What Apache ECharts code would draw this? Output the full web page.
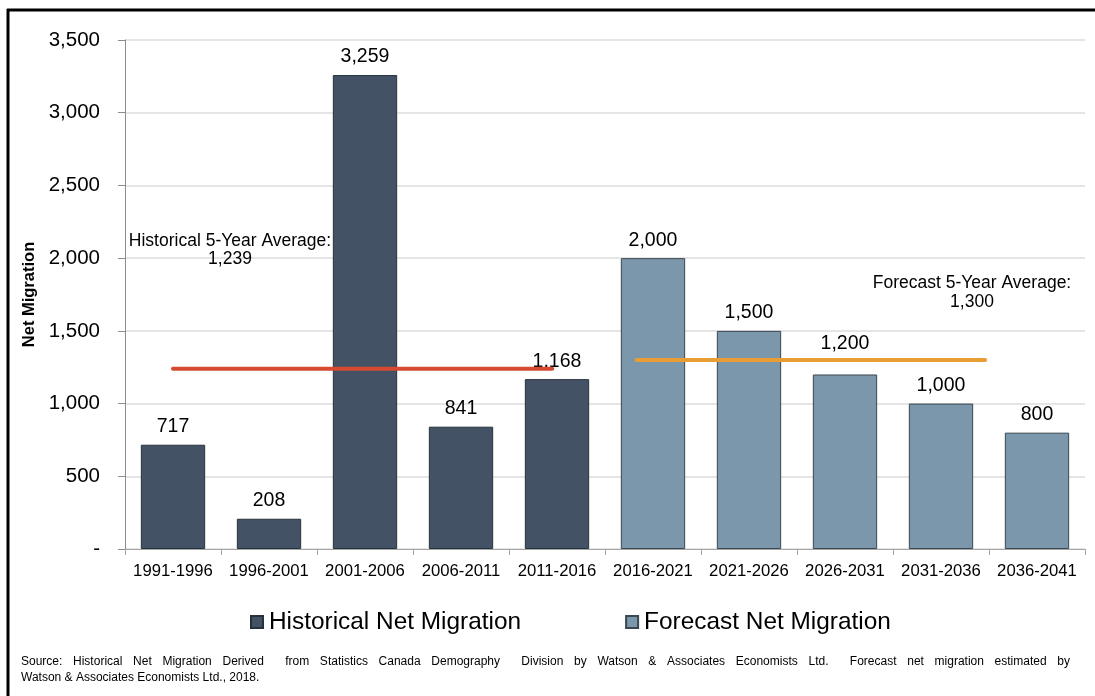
<!DOCTYPE html>
<html>
<head>
<meta charset="utf-8">
<script src="https://cdn.jsdelivr.net/npm/echarts@6/dist/echarts.min.js"></script>
<style>
html,body{margin:0;padding:0;background:#fff;}
#chart{width:1095px;height:696px;}
</style>
</head>
<body>
<div id="chart"></div>
<script>
const categories = ['1991-1996','1996-2001','2001-2006','2006-2011','2011-2016','2016-2021','2021-2026','2026-2031','2031-2036','2036-2041'];
const historical = [717, 208, 3259, 841, 1168, '-', '-', '-', '-', '-'];
const forecast = ['-', '-', '-', '-', '-', 2000, 1500, 1200, 1000, 800];
const yTicks = [0, 500, 1000, 1500, 2000, 2500, 3000, 3500];
const histAvg = 1239;
const forecastAvg = 1300;
const histAvgSpan = [0.5, 4.45];
const forecastAvgSpan = [5.33, 8.96];
const sourceLine1 = 'Source: Historical Net Migration Derived  from Statistics Canada Demography  Division by Watson & Associates Economists Ltd.  Forecast net migration estimated by';
const sourceLine2 = 'Watson & Associates Economists Ltd., 2018.';

const FONT = "'Liberation Sans', Arial, sans-serif";
const fmt = v => Number(v).toLocaleString('en-US');

// justified first source line (as in the reference text box)
function justified(text, x, y, width, font) {
  const ctx = document.createElement('canvas').getContext('2d');
  ctx.font = font;
  const tokens = text.split(' ');
  const total = tokens.reduce((s, t) => s + ctx.measureText(t).width, 0);
  const gap = (width - total) / (tokens.length - 1);
  const els = [];
  let cx = x;
  tokens.forEach(t => {
    if (t.length) {
      els.push({type: 'text', x: cx, y: y, z: 50,
        style: {text: t, fill: '#000', font: font, textVerticalAlign: 'middle'}});
    }
    cx += ctx.measureText(t).width + gap;
  });
  return els;
}

const forecastData = forecast.map(v => (v === 1200 ? {value: v, label: {distance: 21}} : v));

const chart = echarts.init(document.getElementById('chart'), null, {renderer: 'canvas'});
chart.setOption({
  animation: false,
  backgroundColor: '#fff',
  textStyle: {fontFamily: FONT, color: '#000'},
  grid: {left: 125, right: 10, top: 40, bottom: 147, containLabel: false},
  legend: {
    data: ['Historical Net Migration', 'Forecast Net Migration'],
    left: 245, top: 605,
    itemWidth: 12, itemHeight: 12, itemGap: 104,
    icon: 'rect',
    textStyle: {fontSize: 24.4, fontFamily: FONT, color: '#000', padding: [0,0,0,1]}
  },
  xAxis: [{
    type: 'category',
    data: categories,
    axisLine: {lineStyle: {color: '#a6a6a6', width: 1}},
    axisTick: {show: true, length: 6, lineStyle: {color: '#a6a6a6'}},
    axisLabel: {fontSize: 16.7, color: '#000', fontFamily: FONT, margin: 14, interval: 0}
  }, {
    type: 'value', min: 0, max: categories.length, show: false
  }],
  yAxis: {
    type: 'value',
    min: yTicks[0], max: yTicks[yTicks.length - 1], interval: 500,
    name: 'Net Migration',
    nameLocation: 'middle', nameGap: 86,
    nameTextStyle: {fontSize: 16.5, fontWeight: 'bold', color: '#000', fontFamily: FONT},
    axisLine: {show: true, lineStyle: {color: '#8c8c8c'}},
    axisTick: {show: true, length: 7, lineStyle: {color: '#8c8c8c'}},
    axisLabel: {fontSize: 20.5, color: '#000', fontFamily: FONT, margin: 25,
      formatter: v => v === 0 ? '-' : fmt(v)},
    splitLine: {lineStyle: {color: '#dcdcdc', width: 1.5}}
  },
  series: [{
    name: 'Historical Net Migration',
    type: 'bar',
    data: historical,
    barWidth: '67%',
    barGap: '-100%',
    itemStyle: {color: '#435264', borderColor: '#27313b', borderWidth: 1},
    label: {show: true, position: 'top', distance: 8, fontSize: 19.5, color: '#000', fontFamily: FONT,
      formatter: p => fmt(p.value)}
  }, {
    name: 'Forecast Net Migration',
    type: 'bar',
    data: forecastData,
    barWidth: '67%',
    barGap: '-100%',
    itemStyle: {color: '#7b97ab', borderColor: '#3a4650', borderWidth: 1},
    label: {show: true, position: 'top', distance: 8, fontSize: 19.5, color: '#000', fontFamily: FONT,
      formatter: p => fmt(p.value)}
  }, {
    name: 'Historical Average',
    type: 'line',
    xAxisIndex: 1,
    data: [[histAvgSpan[0], histAvg], [histAvgSpan[1], histAvg]],
    symbol: 'none',
    lineStyle: {color: '#d54a30', width: 4, cap: 'round'},
    z: 5
  }, {
    name: 'Forecast Average',
    type: 'line',
    xAxisIndex: 1,
    data: [[forecastAvgSpan[0], forecastAvg], [forecastAvgSpan[1], forecastAvg]],
    symbol: 'none',
    lineStyle: {color: '#e89d35', width: 4, cap: 'round'},
    z: 5
  }],
  graphic: [
    {type: 'line', shape: {x1: 7, y1: 10, x2: 1095, y2: 10}, style: {stroke: '#000', lineWidth: 3}, z: 100},
    {type: 'line', shape: {x1: 8, y1: 9, x2: 8, y2: 696}, style: {stroke: '#000', lineWidth: 3}, z: 100},
    {type: 'text', x: 230, y: 250, z: 50,
      style: {text: 'Historical 5-Year Average:\n' + fmt(histAvg), fill: '#000', font: '17.5px ' + FONT,
        textAlign: 'center', textVerticalAlign: 'middle', lineHeight: 18}},
    {type: 'text', x: 972, y: 293, z: 50,
      style: {text: 'Forecast 5-Year Average:\n' + fmt(forecastAvg), fill: '#000', font: '17.5px ' + FONT,
        textAlign: 'center', textVerticalAlign: 'middle', lineHeight: 19}},
    ...justified(sourceLine1, 21, 662, 1049, '12px ' + FONT),
    {type: 'text', x: 21, y: 678, z: 50,
      style: {text: sourceLine2, fill: '#000', font: '12px ' + FONT, textVerticalAlign: 'middle'}}
  ]
});
</script>
</body>
</html>
